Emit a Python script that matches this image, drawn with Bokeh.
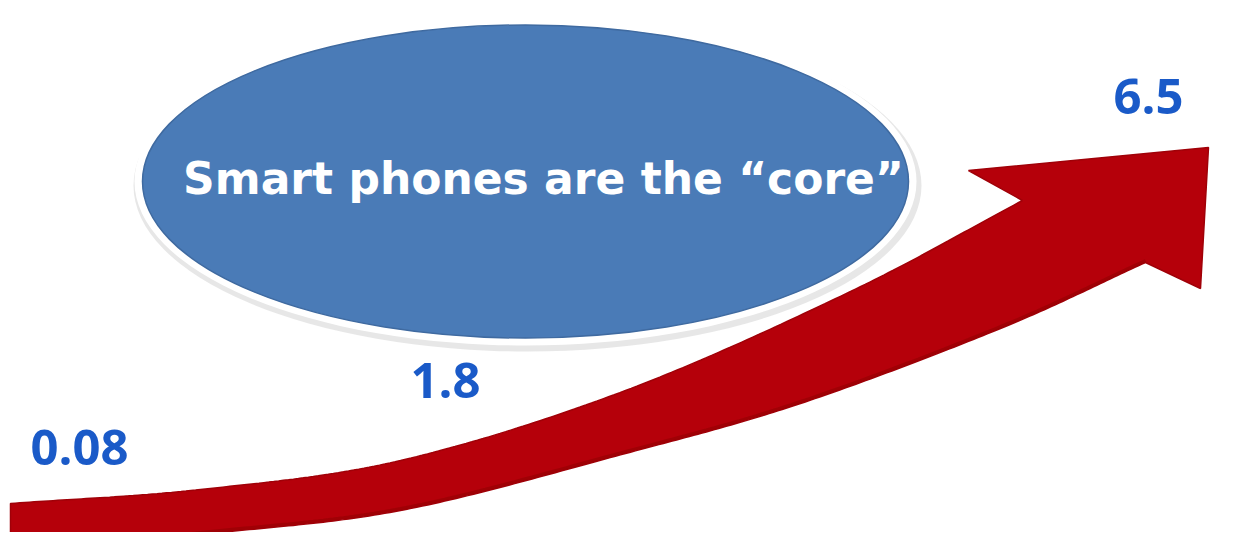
import numpy as np
from bokeh.plotting import figure
from bokeh.models import Range1d
from bokeh.core.properties import value
from bokeh.embed import file_html
from bokeh.resources import INLINE

# ---- data ----
labels = ["0.08", "1.8", "6.5"]
values = [0.08, 1.8, 6.5]
headline = ["Smart phones are the \u201ccore\u201d"]

# ---- layout (pixel-space illustration) ----
label_x = [30, 410, 1113]
label_y = [447, 380, 96]

def catmull(pts, n=40):
    pts = np.array(pts, float)
    P = np.vstack([2 * pts[0] - pts[1], pts, 2 * pts[-1] - pts[-2]])
    out = []
    for i in range(1, len(P) - 2):
        p0, p1, p2, p3 = P[i - 1], P[i], P[i + 1], P[i + 2]
        for t in np.linspace(0, 1, n, endpoint=False):
            out.append(0.5 * ((2 * p1) + (-p0 + p2) * t
                              + (2 * p0 - 5 * p1 + 4 * p2 - p3) * t * t
                              + (-p0 + 3 * p1 - 3 * p2 + p3) * t ** 3))
    out.append(pts[-1])
    return np.array(out)

top_edge = catmull([(10, 503), (200, 489), (400, 460), (625, 390), (850, 291), (1022, 200)])
bot_edge = catmull([(10, 553), (200, 534), (400, 510), (625, 453), (800, 403), (1000, 328), (1145, 262)])
head = np.array([(968, 170), (1208, 147), (1200, 288)])

xs = list(top_edge[:, 0]) + list(head[:, 0]) + list(bot_edge[::-1, 0])
ys = list(top_edge[:, 1]) + list(head[:, 1]) + list(bot_edge[::-1, 1])

p = figure(width=1234, height=532, output_backend="svg", toolbar_location=None,
           x_range=Range1d(0, 1234), y_range=Range1d(532, 0), min_border=0)
p.axis.visible = False
p.grid.visible = False
p.outline_line_color = None
p.background_fill_color = "white"
p.border_fill_color = "white"

# arrow
p.patch(xs, ys, fill_color="#b5000a", line_color="#a00008", line_width=1.5)
p.line(bot_edge[:, 0], bot_edge[:, 1] - 2, line_color="#8c0000", line_width=3, line_alpha=0.5)

# ellipse with soft shadow and white rim
p.ellipse(x=527, y=185, width=788, height=332, fill_color="#a0a0a0", fill_alpha=0.25, line_color=None)
p.ellipse(x=525, y=181, width=782, height=328, fill_color="white", line_color=None)
p.ellipse(x=525, y=181, width=766, height=313, fill_color="#4a7bb7", line_color="#3f6aa0", line_width=1.5)

p.text(x=[543], y=[178], text=headline, text_color="white",
       text_font=value("DejaVu Sans"), text_font_style="bold",
       text_font_size=value("44px"), text_align="center", text_baseline="middle")

p.text(x=label_x, y=label_y, text=labels, text_color="#1a5ac8",
       text_font=value("Open Sans"), text_font_style="bold",
       text_font_size=value("49px"), text_align="left", text_baseline="alphabetic")

open("out.html", "w").write(file_html(p, INLINE))
